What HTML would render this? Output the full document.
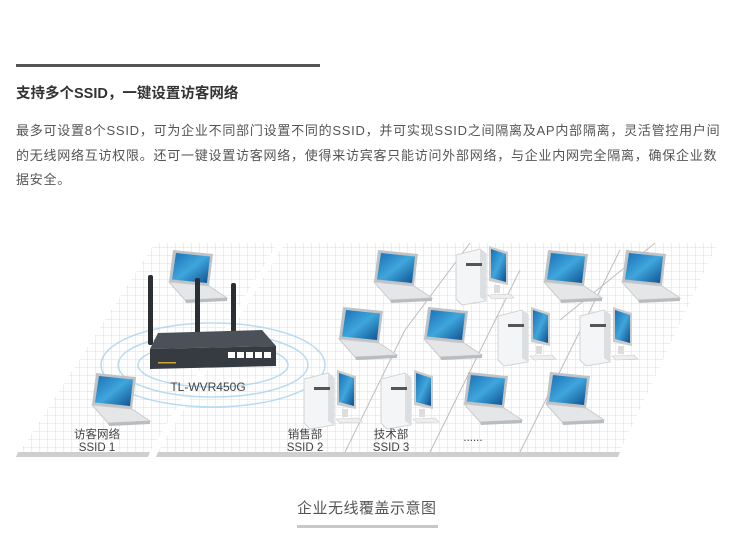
<!DOCTYPE html>
<html><head><meta charset="utf-8"><style>
body{margin:0;background:#fff;width:750px;height:557px;overflow:hidden;position:relative;font-family:"Liberation Sans","Noto Sans CJK SC",sans-serif}
.bar{position:absolute;left:16px;top:64px;width:304px;height:3px;background:#555}
.t{position:absolute;left:16px;top:82px;font-size:14.5px;font-weight:bold;color:#333;white-space:nowrap}
.p{position:absolute;left:16px;top:119px;width:730px;font-size:13px;line-height:24.5px;color:#555;white-space:nowrap;letter-spacing:0.75px}
svg{position:absolute;left:0;top:0}
.cap{position:absolute;left:297px;top:497px;font-size:15px;color:#555;letter-spacing:0.5px}
.ul{position:absolute;left:297px;top:525px;width:141px;height:3px;background:#c8c8c8}
</style></head><body>
<div class="bar"></div>
<div class="t">支持多个SSID，一键设置访客网络</div>
<div class="p">最多可设置8个SSID，可为企业不同部门设置不同的SSID，并可实现SSID之间隔离及AP内部隔离，灵活管控用户间<br>的无线网络互访权限。还可一键设置访客网络，使得来访宾客只能访问外部网络，与企业内网完全隔离，确保企业数<br>据安全。</div>
<svg width="750" height="557" viewBox="0 0 750 557">
<defs>
<pattern id="g" width="8" height="8" patternUnits="userSpaceOnUse"><path d="M8 0V8M0 8H8" stroke="#dcdcdc" stroke-width="1" fill="none"/></pattern>
<linearGradient id="scr" x1="0" y1="0" x2="1" y2="1"><stop offset="0" stop-color="#1a6fb5"/><stop offset="0.5" stop-color="#3fa6dc"/><stop offset="1" stop-color="#0d4f8e"/></linearGradient>
<g id="lap"><path d="M8 0 L48 4 L44 36 L4 32 Z" fill="#bfc3c6"/><path d="M11 3 L45 6.5 L42 33 L7 29.5Z" fill="url(#scr)"/><path d="M4 32 L44 36 L62 48 L20 50 Z" fill="#e4e6e8" stroke="#c9cccf" stroke-width="1"/><path d="M20 50 L62 48 L62 51 L21 53Z" fill="#b9bcbe"/></g>
<g id="pc"><path d="M0 6 L24 0 L30 5 L30 52 L6 56 L0 50Z" fill="#f4f5f6" stroke="#d0d3d6"/><path d="M24 0 L30 5 L30 52 L24 48Z" fill="#dcdfe2"/><rect x="10" y="14" width="16" height="3" fill="#555"/><path d="M33 -3 L52 3 L52 36 L33 32Z" fill="#ccc"/><path d="M35 0 L50 5 L50 33 L35 29Z" fill="url(#scr)"/><rect x="38" y="36" width="6" height="8" fill="#ddd"/><path d="M32 46 L54 45 L58 49 L36 50Z" fill="#eee" stroke="#ccc" stroke-width=".6"/></g>
</defs>
<path d="M20 452 L150 452 L278 243 L155 243Z" fill="#fff"/>
<path d="M20 452 L150 452 L278 243 L155 243Z" fill="url(#g)"/>
<path d="M18 452 L150 452 L148 457 L16 457Z" fill="#cfcfcf"/>
<path d="M158 452 L620 452 L718 243 L285 243Z" fill="#fff"/>
<path d="M158 452 L620 452 L718 243 L285 243Z" fill="url(#g)"/>
<path d="M158 452 L620 452 L618 457 L156 457Z" fill="#cfcfcf"/>
<g stroke="#bdbdbd" stroke-width="1">
<line x1="345" y1="452" x2="405" y2="330"/><line x1="430" y1="452" x2="520" y2="270"/><line x1="520" y1="452" x2="620" y2="250"/><line x1="405" y1="330" x2="470" y2="243"/><line x1="560" y1="320" x2="655" y2="243"/>
</g>
<g fill="none" stroke="#a9d3ee" stroke-width="1.5" opacity=".8">
<ellipse cx="213" cy="365" rx="75" ry="22"/><ellipse cx="213" cy="365" rx="95" ry="32"/><ellipse cx="213" cy="365" rx="112" ry="42"/>
</g>
<use href="#lap" x="165" y="250"/>
<use href="#lap" x="88" y="373"/>
<g>
<rect x="148" y="275" width="5" height="70" rx="2" fill="#2b2f33"/>
<rect x="195" y="278" width="5" height="60" rx="2" fill="#2b2f33"/>
<rect x="231" y="283" width="5" height="62" rx="2" fill="#2b2f33"/>
<path d="M158 333 L262 330 L276 346 L150 349Z" fill="#4a5159"/>
<path d="M150 349 L276 346 L276 366 L150 369Z" fill="#353b41"/>
<g fill="#fff"><rect x="228" y="352" width="7" height="6"/><rect x="237" y="352" width="7" height="6"/><rect x="246" y="352" width="7" height="6"/><rect x="255" y="352" width="7" height="6"/><rect x="264" y="352" width="7" height="6"/></g>
<rect x="158" y="362" width="18" height="1.5" fill="#c9a83a"/>
</g>
<text x="208" y="391" font-family="Liberation Sans" font-size="12" fill="#444" text-anchor="middle">TL-WVR450G</text>
<use href="#lap" x="370" y="250"/>
<use href="#lap" x="540" y="250"/>
<use href="#lap" x="618" y="250"/>
<use href="#lap" x="335" y="307"/>
<use href="#lap" x="420" y="307"/>
<use href="#lap" x="460" y="372"/>
<use href="#lap" x="542" y="372"/>
<use href="#pc" x="456" y="249"/>
<use href="#pc" x="498" y="310"/>
<use href="#pc" x="580" y="310"/>
<use href="#pc" x="304" y="373"/>
<use href="#pc" x="381" y="373"/>
<g font-family="Liberation Sans,Noto Sans CJK SC,sans-serif" font-size="11.5" fill="#444" text-anchor="middle">
<text x="97" y="438">访客网络</text><text x="97" y="451">SSID 1</text>
<text x="305" y="438">销售部</text><text x="305" y="451">SSID 2</text>
<text x="391" y="438">技术部</text><text x="391" y="451">SSID 3</text>
<text x="473" y="441">......</text>
</g>
</svg>
<div class="cap">企业无线覆盖示意图</div>
<div class="ul"></div>
</body></html>
